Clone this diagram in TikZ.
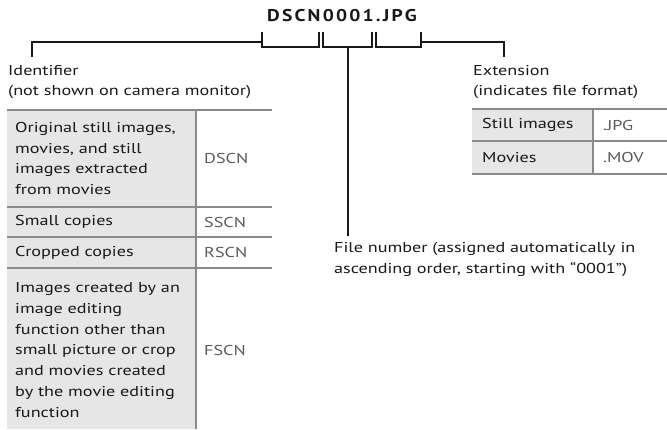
\documentclass[tikz,border=0pt]{standalone}
\usepackage{fontspec}
\setmainfont{PT Sans}[FakeStretch=1.27]
\newfontfamily\fnamefont{PT Sans}[FakeStretch=1.15,LetterSpace=13]
\usetikzlibrary{positioning}
\definecolor{gridgray}{HTML}{8A8A8A}
\definecolor{cellgray}{HTML}{E6E6E6}
\definecolor{codegray}{HTML}{5A5A5A}
\definecolor{inkblack}{HTML}{1A1718}
\newcommand\txtsize{\fontsize{14.3}{20.8}\selectfont}

\begin{document}
\begin{tikzpicture}[x=1pt,y=-1pt,
    lbl/.style={anchor=west, inner sep=0pt, align=left, text=inkblack, font=\txtsize},
    code/.style={anchor=west, inner sep=0pt, text=codegray, font=\txtsize},
    brk/.style={line width=2pt, inkblack},
    grid/.style={gridgray, line width=2.6pt}
  ]
    \useasboundingbox (0,0) rectangle (667,429);
    % ---- file name and brackets ----
    \node[anchor=base, inner sep=0pt, text=inkblack, font=\fnamefont\bfseries\fontsize{17}{20}\selectfont]
      (fname) at (342,21) {DSCN0001.JPG};
    \draw[brk] (262,32) -- (262,47) -- (319,47) -- (319,32);
    \draw[brk] (323,32) -- (323,47) -- (372,47) -- (372,32);
    \draw[brk] (376,32) -- (376,47) -- (421,47) -- (421,32);
    \coordinate (idend) at (262,42);
    \coordinate (idtop) at (32,57);
    \coordinate (numend) at (348,47);
    \coordinate (numtop) at (348,236);
    \coordinate (extend) at (421,42);
    \coordinate (exttop) at (504,57);
    \draw[brk] (idend) -| (idtop);
    \draw[brk] (numend) -- (numtop);
    \draw[brk] (extend) -| (exttop);
    % ---- labels ----
    \node[lbl] (ident) at (8,82) {Identifier\\(not shown on camera monitor)};
    \node[lbl] (exten) at (473,82) {Extension\\(indicates file format)};
    \node[lbl] (fnum) at (334,259.5)
      {File number (assigned automatically in\\ascending order, starting with “0001”)};
    % ---- identifier table ----
    \fill[cellgray] (7,110) rectangle (196,429);
    \foreach \y in {110,207,237,268} \draw[grid] (7,\y) -- (272,\y);
    \draw[grid] (196,110) -- (196,429);
    \node[lbl] (orig) at (15,158.5)
      {Original still images,\\movies, and still\\images extracted\\from movies};
    \node[code] (dscn) at (204,158.5) {DSCN};
    \node[lbl] (small) at (15,222) {Small copies};
    \node[code] (sscn) at (204,222) {SSCN};
    \node[lbl] (crop) at (15,252.5) {Cropped copies};
    \node[code] (rscn) at (204,252.5) {RSCN};
    \node[lbl] (edit) at (15,350)
      {Images created by an\\image editing\\function other than\\small picture or crop\\and movies created\\by the movie editing\\function};
    \node[code] (fscn) at (204,350) {FSCN};
    % ---- extension table ----
    \fill[cellgray] (472,109) rectangle (593,174);
    \foreach \y in {109,141,174} \draw[grid] (472,\y) -- (667,\y);
    \draw[grid] (593,109) -- (593,174);
    \node[lbl] (still) at (482,125) {Still images};
    \node[code] (jpg) at (603,125) {.JPG};
    \node[lbl] (movie) at (482,157.5) {Movies};
    \node[code] (mov) at (603,157.5) {.MOV};
\end{tikzpicture}
\end{document}
